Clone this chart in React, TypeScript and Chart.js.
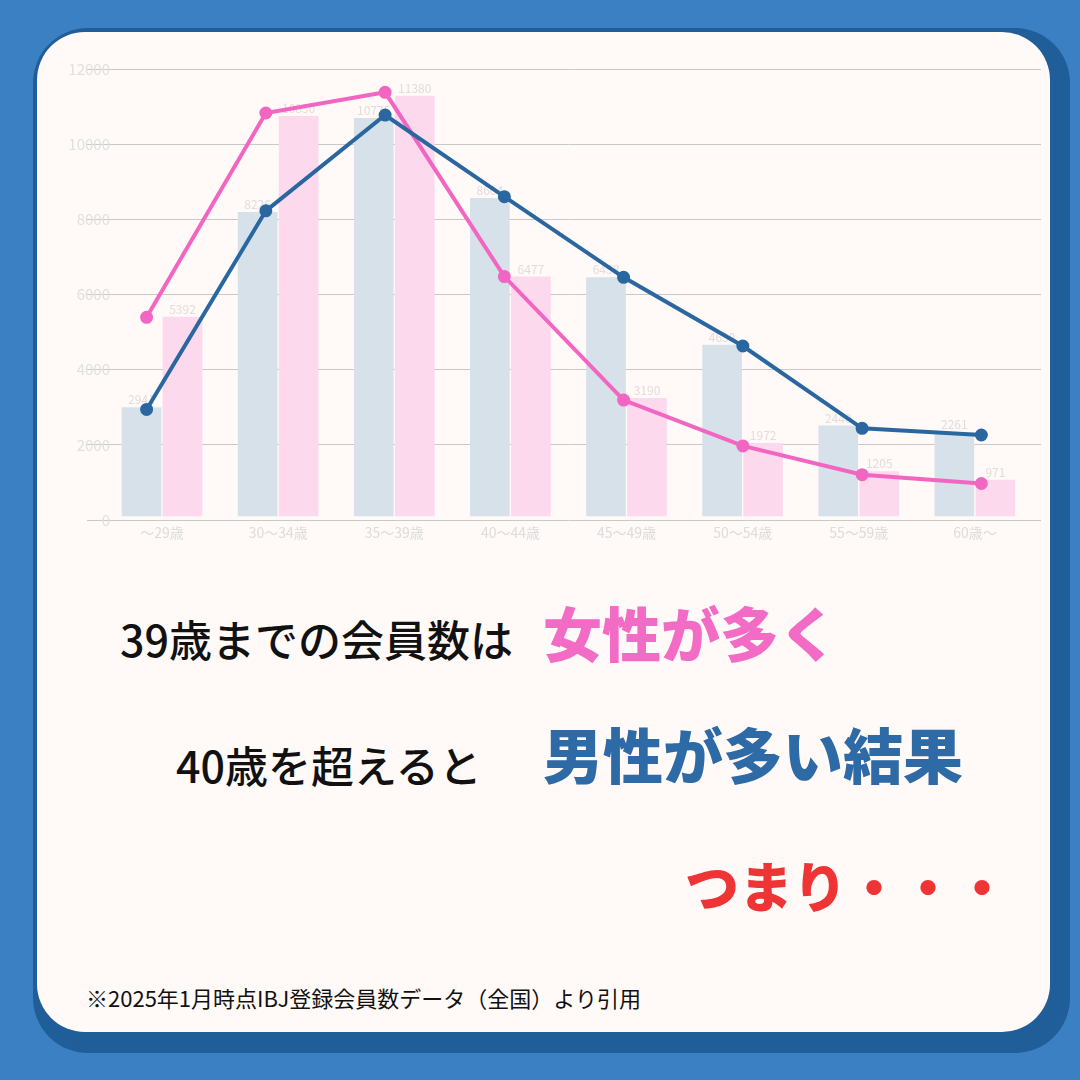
import React, { useEffect, useRef } from "react";
import { Chart, registerables } from "chart.js";

Chart.register(...registerables);

const ageLabels = ["～29歳", "30～34歳", "35～39歳", "40～44歳", "45～49歳", "50～54歳", "55～59歳", "60歳～"];
const maleMembers = [2941, 8226, 10775, 8604, 6458, 4630, 2440, 2261];
const femaleMembers = [5392, 10830, 11380, 6477, 3190, 1972, 1205, 971];
const yMin = 0;
const yMax = 12000;
const yStep = 2000;

const FONT = '"Noto Sans CJK JP", "Noto Sans", sans-serif';
const Y_TICK_SIZE = 15;

const barValueLabels = {
  id: "barValueLabels",
  afterDatasetDraw(chart: any, args: any) {
    const ds = chart.data.datasets[args.index];
    if (ds.type !== "bar") return;
    const ctx = chart.ctx;
    ctx.save();
    ctx.font = `12px ${FONT}`;
    ctx.fillStyle = "#e2dcdc";
    ctx.textAlign = "center";
    ctx.textBaseline = "bottom";
    args.meta.data.forEach((el: any, i: number) => {
      ctx.fillText(String(ds.data[i].y), el.x, el.y - 2);
    });
    ctx.restore();
  },
};

function widestTick(): number {
  const c = document.createElement("canvas").getContext("2d");
  if (!c) return 36;
  c.font = `normal ${Y_TICK_SIZE}px ${FONT}`;
  let w = 0;
  for (let v = yMin; v <= yMax; v += yStep) w = Math.max(w, c.measureText(String(v)).width);
  return w;
}

function MemberChart() {
  const ref = useRef<HTMLCanvasElement | null>(null);
  useEffect(() => {
    if (!ref.current) return;
    const widest = widestTick();
    const chart = new Chart(ref.current, {
      data: {
        labels: ageLabels,
        datasets: [
          {
            type: "bar",
            label: "男性",
            data: maleMembers.map((v, i) => ({ x: i, y: v })),
            backgroundColor: "#d6e1ea",
            xAxisID: "xBlue",
            yAxisID: "yBar",
            order: 2,
            grouped: false,
            barThickness: 39,
          },
          {
            type: "bar",
            label: "女性",
            data: femaleMembers.map((v, i) => ({ x: i, y: v })),
            backgroundColor: "#fdd9ee",
            xAxisID: "xPink",
            yAxisID: "yBar",
            order: 2,
            grouped: false,
            barThickness: 39,
          },
          {
            type: "line",
            label: "男性",
            data: maleMembers.map((v, i) => ({ x: i, y: v })),
            xAxisID: "xLine",
            yAxisID: "y",
            borderColor: "#2a67a0",
            backgroundColor: "#2a67a0",
            pointBackgroundColor: "#2a67a0",
            pointBorderColor: "#2a67a0",
            borderWidth: 4,
            pointRadius: 4.5,
            tension: 0,
            order: 1,
          },
          {
            type: "line",
            label: "女性",
            data: femaleMembers.map((v, i) => ({ x: i, y: v })),
            xAxisID: "xLine",
            yAxisID: "y",
            borderColor: "#f266c2",
            backgroundColor: "#f266c2",
            pointBackgroundColor: "#f266c2",
            pointBorderColor: "#f266c2",
            borderWidth: 4,
            pointRadius: 4.5,
            tension: 0,
            order: 1,
          },
        ],
      } as any,
      options: {
        animation: false,
        responsive: false,
        devicePixelRatio: 1,
        layout: { padding: { left: 47, right: 9, top: 29, bottom: 10 } },
        plugins: { legend: { display: false }, tooltip: { enabled: false } },
        scales: {
          x: {
            type: "category",
            offset: true,
            grid: { display: false },
            border: { display: false },
            ticks: { color: "#dcdcdc", font: { size: 14, family: FONT }, padding: -4 },
            afterFit: (s: any) => {
              s.height = 30;
            },
          },
          xLine: { type: "linear", display: false, offset: false, min: -0.3572, max: 7.433 },
          xBlue: { type: "linear", display: false, offset: false, min: -0.3229, max: 7.6771 },
          xPink: { type: "linear", display: false, offset: false, min: -0.676, max: 7.324 },
          y: {
            type: "linear",
            position: "left",
            min: yMin,
            max: yMax,
            ticks: {
              stepSize: yStep,
              color: "#e0e0e0",
              mirror: true,
              crossAlign: "far",
              padding: 6 - widest,
              font: { size: Y_TICK_SIZE, family: FONT },
              callback: (v: any) => String(v),
            },
            grid: { color: "#c9c9c9", tickLength: 17, drawTicks: true, lineWidth: 1 },
            border: { display: false },
            afterFit: (s: any) => {
              s.width = 17;
            },
          },
          yRight: {
            type: "linear",
            position: "right",
            min: yMin,
            max: yMax,
            ticks: { display: false, stepSize: yStep },
            grid: { color: "#c9c9c9", drawOnChartArea: false, tickLength: 8, drawTicks: true },
            border: { display: false },
          },
          yBar: { type: "linear", display: false, min: -108, max: 12111 },
        },
      } as any,
      plugins: [barValueLabels],
    });
    return () => chart.destroy();
  }, []);
  return (
    <canvas
      ref={ref}
      width={1010}
      height={520}
      style={{ position: "absolute", left: 40, top: 40, width: 1010, height: 520 }}
    />
  );
}

const textBase: React.CSSProperties = {
  position: "absolute",
  fontFamily: FONT,
  lineHeight: 1,
  whiteSpace: "nowrap",
};

export default function App() {
  return (
    <div
      style={{
        position: "absolute",
        left: 0,
        top: 0,
        width: 1080,
        height: 1080,
        overflow: "hidden",
        background: "#3b80c2",
      }}
    >
      <div
        style={{
          position: "absolute",
          left: 33,
          top: 28,
          width: 1037,
          height: 1025,
          borderRadius: 55,
          background: "#1f5e99",
        }}
      />
      <div
        style={{
          position: "absolute",
          left: 37,
          top: 32,
          width: 1013,
          height: 1000,
          borderRadius: 48,
          background: "#fffaf8",
        }}
      />
      <MemberChart />
      <div style={{ ...textBase, left: 120, top: 617, fontSize: 43, fontWeight: 500, color: "#111" }}>
        39歳までの会員数は
      </div>
      <div style={{ ...textBase, left: 543, top: 602, fontSize: 59, fontWeight: 900, color: "#f26cc6" }}>
        女性が多く
      </div>
      <div style={{ ...textBase, left: 176, top: 743, fontSize: 43, fontWeight: 500, color: "#111" }}>
        40歳を超えると
      </div>
      <div style={{ ...textBase, left: 543, top: 723, fontSize: 60, fontWeight: 900, color: "#2d6aa6" }}>
        男性が多い結果
      </div>
      <div style={{ ...textBase, left: 685, top: 858, fontSize: 54, fontWeight: 900, color: "#ee3434" }}>
        つまり・・・
      </div>
      <div style={{ ...textBase, left: 86, top: 986, fontSize: 22, fontWeight: 400, color: "#111" }}>
        ※2025年1月時点IBJ登録会員数データ（全国）より引用
      </div>
    </div>
  );
}
